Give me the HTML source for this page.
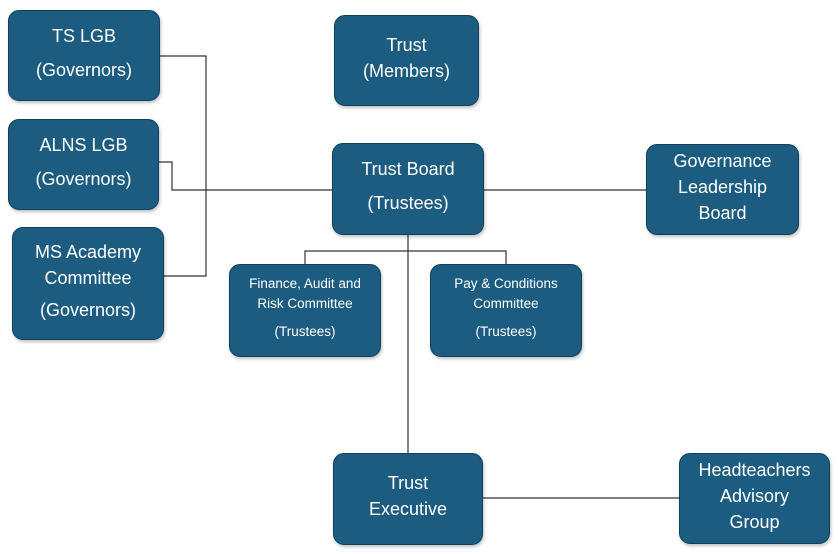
<!DOCTYPE html>
<html><head><meta charset="utf-8"><style>
body{margin:0;width:838px;height:554px;background:#fff;position:relative;overflow:hidden;font-family:"Liberation Sans",sans-serif}
.b{position:absolute;box-sizing:border-box;background:#1b5c80;border:1.5px solid #123f5a;border-radius:11px;color:#fff;display:flex;flex-direction:column;justify-content:center;align-items:center;text-align:center;font-size:18px;line-height:26px;box-shadow:1px 2px 3px rgba(0,0,0,.25);padding-bottom:6px}
.s{font-size:13.5px;line-height:20px}
svg{position:absolute;left:0;top:0}
</style></head><body>
<svg width="838" height="554"><g stroke="#333" stroke-width="1.2" fill="none">
<polyline points="160,56 206,56 206,276 164,276"/>
<polyline points="159,162 172,162 172,190 332,190"/>
<line x1="484" y1="190" x2="646" y2="190"/>
<line x1="408" y1="235" x2="408" y2="453"/>
<polyline points="305,264 305,251 506,251 506,264"/>
<line x1="483" y1="498" x2="679" y2="498"/>
</g></svg>
<div class="b" style="left:8px;top:10px;width:152px;height:91px">TS LGB<br><span style="margin-top:8px">(Governors)</span></div>
<div class="b" style="left:8px;top:119px;width:151px;height:91px">ALNS LGB<br><span style="margin-top:8px">(Governors)</span></div>
<div class="b" style="left:12px;top:227px;width:152px;height:113px">MS Academy<br>Committee<br><span style="margin-top:6px">(Governors)</span></div>
<div class="b" style="left:334px;top:15px;width:145px;height:91px">Trust<br>(Members)</div>
<div class="b" style="left:332px;top:143px;width:152px;height:92px">Trust Board<br><span style="margin-top:8px">(Trustees)</span></div>
<div class="b" style="left:646px;top:144px;width:153px;height:91px">Governance<br>Leadership<br>Board</div>
<div class="b s" style="left:229px;top:264px;width:152px;height:93px">Finance, Audit and<br>Risk Committee<br><span style="margin-top:8px">(Trustees)</span></div>
<div class="b s" style="left:430px;top:264px;width:152px;height:93px">Pay &amp; Conditions<br>Committee<br><span style="margin-top:8px">(Trustees)</span></div>
<div class="b" style="left:333px;top:453px;width:150px;height:92px">Trust<br>Executive</div>
<div class="b" style="left:679px;top:453px;width:151px;height:91px">Headteachers<br>Advisory<br>Group</div>
</body></html>
